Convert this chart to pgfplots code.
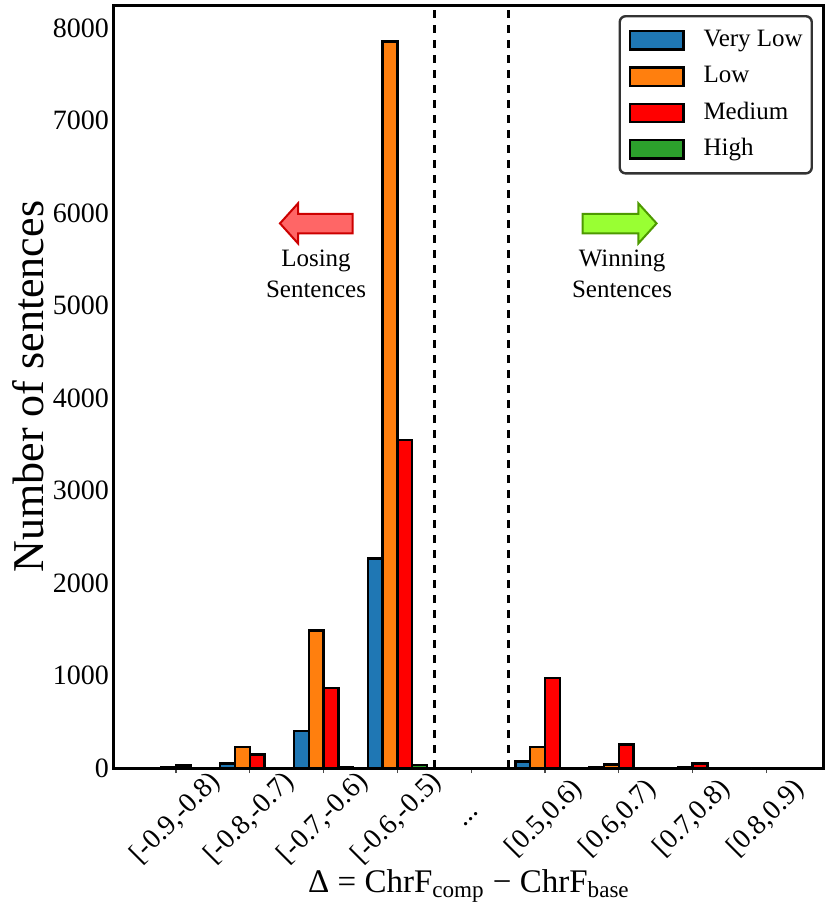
\documentclass[border=0pt]{standalone}
\usepackage{fontspec}
\setmainfont{Liberation Serif}
\usepackage{pgfplots}
\pgfplotsset{compat=1.18}
\definecolor{cblue}{HTML}{1F77B4}
\definecolor{corange}{HTML}{FF7F0E}
\definecolor{cred}{HTML}{FF0000}
\definecolor{cgreen}{HTML}{2CA02C}
\definecolor{arrowredfill}{HTML}{FF6666}
\definecolor{arrowreddraw}{HTML}{CC0000}
\definecolor{arrowgreenfill}{HTML}{99FF33}
\definecolor{arrowgreendraw}{HTML}{4D9900}
\begin{document}
\begin{tikzpicture}
\useasboundingbox (-57pt,-74.5pt) rectangle (358pt,384pt);
\begin{axis}[
  at={(0,0)}, anchor=south west,
  scale only axis, width=355pt, height=381.5pt,
  xmin=-0.84, xmax=8.78, ymin=0, ymax=8250,
  ybar, bar width=0.2,
  axis line style={line width=1.5pt},
  xtick={0,...,8},
  xticklabels={{[-0.9,-0.8)},{[-0.8,-0.7)},{[-0.7,-0.6)},{[-0.6,-0.5)},{.{}.{}.},{[0.5,0.6)},{[0.6,0.7)},{[0.7,0.8)},{[0.8,0.9)}},
  ytick={0,1000,2000,3000,4000,5000,6000,7000,8000},
  scaled y ticks=false,
  /pgf/number format/1000 sep={},
  /pgf/number format/assume math mode=true,
  tick align=outside, xtick pos=left, ytick pos=left,
  major tick length=2.5pt,
  xtick style={black!70, line width=0.6pt},
  ytick style={draw=none},
  tick label style={font=\fontsize{14}{16}\selectfont},
  xticklabel style={rotate=45, anchor=center},
  xticklabel shift=23pt,
  yticklabel style={xshift=3.5pt},
  ylabel={Number of sentences},
  every axis y label/.style={at={(axis description cs:-0.1211,0.5)}, anchor=center, rotate=90, font=\fontsize{22}{24}\selectfont},
  xlabel={Δ = ChrF\textsubscript{comp} − ChrF\textsubscript{base}},
  every axis x label/.style={at={(axis description cs:0.5,-0.1545)}, anchor=center, font=\fontsize{16.5}{18}\selectfont},
  legend cell align=left,
  legend image code/.code={\draw[#1, sharp corners, line width=1.2pt, draw=black] (0pt,-4.6pt) rectangle (26.7pt,4.6pt);},
  legend style={at={(1,1)}, anchor=north east, xshift=-5.5pt, yshift=-5pt,
    draw=black!80, line width=1.2pt, rounded corners=3pt,
    font=\fontsize{12.5}{14}\selectfont,
    inner xsep=4.5pt, inner ysep=6pt, row sep=6.2pt,
    nodes={inner sep=0pt, text height=9pt, text depth=3pt},
    /tikz/every odd column/.append style={column sep=9.5pt}},
]
\addplot[fill=cblue, draw=black, line width=1.2pt, bar shift=-0.3] coordinates {(0,3) (1,50) (2,400) (3,2265) (5,72) (6,12) (7,3) (8,0)};
\addplot[fill=corange, draw=black, line width=1.2pt, bar shift=-0.1] coordinates {(0,10) (1,230) (2,1485) (3,7855) (5,227) (6,36) (7,5) (8,0)};
\addplot[fill=cred, draw=black, line width=1.2pt, bar shift=0.1] coordinates {(0,28) (1,145) (2,862) (3,3545) (5,970) (6,256) (7,50) (8,3)};
\addplot[fill=cgreen, draw=black, line width=1.2pt, bar shift=0.3] coordinates {(0,0) (1,0) (2,5) (3,30) (5,0) (6,0) (7,0) (8,0)};
\legend{Very Low, Low, Medium, High}
\draw[black, line width=1.4pt, dash pattern=on 4pt off 3.5pt] (3.5,0) -- (3.5,8250);
\draw[black, line width=1.4pt, dash pattern=on 4pt off 3.5pt] (4.5,0) -- (4.5,8250);
\end{axis}
% annotation arrows and texts
\draw[draw=arrowreddraw, fill=arrowredfill, line width=1pt, line join=miter]
  (83pt,272.3pt) -- (92pt,282.3pt) -- (92pt,277pt) -- (119.3pt,277pt) -- (119.3pt,267.3pt) -- (92pt,267.3pt) -- (92pt,262.3pt) -- cycle;
\draw[draw=arrowgreendraw, fill=arrowgreenfill, line width=1pt, line join=miter]
  (271.3pt,272.3pt) -- (262.2pt,282.3pt) -- (262.2pt,277pt) -- (234.3pt,277pt) -- (234.3pt,267.3pt) -- (262.2pt,267.3pt) -- (262.2pt,262.3pt) -- cycle;
\node[anchor=base, inner sep=0pt, font=\fontsize{12.5}{14}\selectfont] at (101pt,250.7pt) {Losing};
\node[anchor=base, inner sep=0pt, font=\fontsize{12.5}{14}\selectfont] at (101pt,235.3pt) {Sentences};
\node[anchor=base, inner sep=0pt, font=\fontsize{12.5}{14}\selectfont] at (254pt,250.7pt) {Winning};
\node[anchor=base, inner sep=0pt, font=\fontsize{12.5}{14}\selectfont] at (254pt,235.3pt) {Sentences};
\end{tikzpicture}
\end{document}
